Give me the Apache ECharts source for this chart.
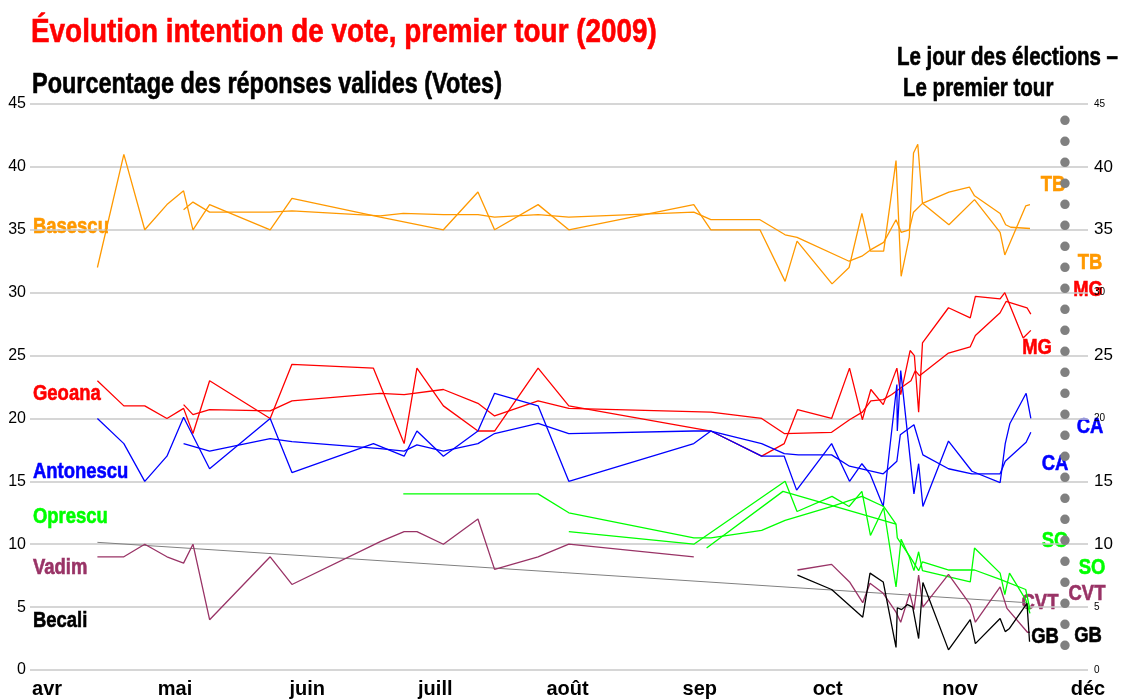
<!DOCTYPE html>
<html>
<head>
<meta charset="utf-8">
<script src="https://cdn.jsdelivr.net/npm/echarts@6/dist/echarts.min.js"></script>
<style>
  html, body { margin: 0; padding: 0; background: #fff; }
  #chart { width: 1128px; height: 700px; }
</style>
</head>
<body>
<div id="chart"></div>
<script>
// x values are days after 1 April 2009
const monthDays = [0, 30, 61, 91, 122, 153, 183, 214, 244];
const monthLabels = ['avr', 'mai', 'juin', 'juill', 'août', 'sep', 'oct', 'nov', 'déc'];
const electionDay = 238.6;

const basescuA = [[11.8,32.0],[18.0,41.0],[22.9,35.0],[28.1,37.0],[32.0,38.1],[34.2,35.0],[38.1,37.0],[52.3,35.0],[57.4,37.5],[78.1,36.0],[92.9,35.0],[101.0,38.0],[104.9,35.0],[115.1,37.0],[122.3,35.0],[151.6,37.0],[155.6,35.0],[167.1,35.0],[173.0,30.9],[175.8,34.1],[184.0,30.7],[188.0,32.0],[191.0,36.3],[193.0,33.3],[196.1,33.3],[199.0,40.5],[200.2,31.3],[202.1,34.4],[203.1,41.1],[204.1,41.8],[205.2,37.1],[211.4,35.4],[217.4,37.4],[223.4,34.8],[224.5,33.0],[229.4,36.9],[230.4,37.0]];
const basescuB = [[32.0,36.6],[34.2,37.2],[38.1,36.4],[52.3,36.4],[57.4,36.5],[78.1,36.1],[83.5,36.3],[92.9,36.2],[101.0,36.2],[104.9,36.0],[115.1,36.2],[122.3,36.0],[151.6,36.4],[155.6,35.8],[167.1,35.8],[173.0,34.6],[175.8,34.4],[188.0,32.5],[191.0,32.9],[193.0,33.4],[196.1,34.0],[199.0,35.8],[200.2,34.8],[202.1,35.0],[203.1,36.4],[205.2,37.1],[211.4,38.0],[216.2,38.4],[217.4,37.7],[223.4,36.3],[224.7,35.4],[225.9,35.2],[230.4,35.1]];

const geoanaA = [[11.8,23.0],[18.0,21.0],[22.9,21.0],[28.1,20.0],[32.0,20.8],[34.2,18.8],[38.1,23.0],[52.3,20.0],[57.4,24.3],[76.5,24.0],[83.7,18.0],[86.7,24.0],[92.9,21.0],[101.0,19.0],[104.9,19.0],[115.1,24.0],[122.3,21.0],[155.6,19.0],[167.5,17.0],[172.8,18.0],[175.9,20.7],[183.9,20.0],[188.1,24.0],[191.1,19.9],[193.1,22.3],[196.0,21.1],[199.2,24.0],[200.1,21.9],[202.3,25.4],[203.3,25.0],[204.3,20.5],[205.2,26.0],[211.3,28.8],[216.4,28.0],[217.6,29.7],[223.4,29.5],[224.5,30.0],[228.8,26.4],[230.6,27.0]];
const geoanaB = [[32.0,21.1],[34.2,20.3],[38.1,20.7],[52.3,20.6],[57.4,21.4],[78.1,22.0],[83.7,21.9],[92.9,22.3],[101.0,21.2],[104.9,20.2],[115.1,21.4],[122.3,20.8],[155.6,20.5],[167.5,20.0],[172.8,18.8],[183.9,18.9],[188.1,19.9],[191.1,20.5],[193.1,21.4],[196.0,21.5],[198.0,21.9],[200.0,22.4],[202.5,23.0],[203.5,23.8],[204.5,23.4],[211.3,25.2],[216.4,25.7],[217.6,26.6],[223.4,28.4],[224.8,29.3],[229.7,28.8],[230.6,28.3]];

const antonescuA = [[11.8,20.0],[18.0,18.0],[22.9,15.0],[28.1,17.0],[32.0,20.1],[38.1,16.0],[52.3,20.0],[57.4,15.7],[76.5,18.0],[83.7,17.0],[86.7,19.0],[92.9,17.0],[101.0,19.0],[104.9,22.0],[115.1,21.0],[122.3,15.0],[151.6,18.0],[155.6,19.0],[167.5,17.0],[172.8,17.0],[175.7,14.3],[183.9,18.0],[188.1,15.0],[191.0,16.4],[192.9,15.6],[196.0,13.0],[199.2,22.7],[199.3,19.0],[200.1,23.8],[203.2,14.0],[204.3,16.4],[205.3,13.0],[211.3,18.2],[216.8,15.8],[223.4,14.9],[224.6,18.0],[225.7,19.6],[229.5,22.0],[230.6,20.0]];
const antonescuB = [[32.0,18.0],[38.1,17.4],[52.3,18.4],[57.4,18.15],[78.1,17.6],[83.7,17.4],[86.7,17.9],[92.9,17.4],[101.0,18.0],[104.9,18.8],[115.1,19.6],[122.3,18.8],[151.6,19.0],[155.6,19.0],[167.5,18.0],[172.8,17.2],[176.1,17.1],[183.9,17.1],[188.1,16.2],[196.0,15.6],[199.2,16.6],[200.0,18.7],[203.2,19.5],[205.3,17.1],[211.3,16.0],[216.8,15.6],[223.4,15.6],[224.6,16.6],[229.5,18.1],[230.6,18.9]];

const oprescuA = [[83.5,14.0],[115.1,14.0],[122.3,12.5],[151.6,10.5],[155.6,10.5],[167.5,11.1],[173.0,11.9],[184.0,13.0],[191.0,13.8],[196.1,13.0],[199.0,11.6],[199.3,10.5],[202.3,9.0],[204.3,7.9],[205.2,8.6],[211.4,7.95],[217.4,7.95],[223.4,7.2],[229.4,6.4],[230.4,4.8]];
const oprescuB = [[122.3,11.0],[151.6,10.0],[173.0,15.0],[175.8,12.6],[184.0,13.8],[188.0,13.0],[191.0,14.2],[193.0,10.7],[196.1,12.9],[199.0,6.6],[200.2,10.4],[202.1,9.0],[203.2,7.9],[204.3,9.4],[205.2,7.9],[211.4,7.4],[216.4,7.0],[217.4,9.7],[223.4,7.7],[224.5,6.0],[225.6,7.7],[229.4,5.6],[230.4,4.5]];
const oprescuC = [[154.6,9.7],[172.5,14.2],[199.0,11.6]];

const vadimA = [[11.8,9.0],[18.0,9.0],[22.9,10.0],[28.1,9.0],[32.0,8.5],[34.2,10.0],[38.1,4.0],[52.3,9.0],[57.4,6.8],[78.1,10.2],[83.7,11.0],[86.7,11.0],[92.9,10.0],[101.0,12.0],[104.9,8.0],[115.1,9.0],[122.3,10.0],[151.6,9.0]];
const vadimB = [[175.9,7.95],[183.9,8.4],[188.1,7.0],[191.2,5.35],[192.9,6.9],[196.0,6.1],[199.0,4.6],[200.1,3.8],[202.2,6.1],[203.2,4.8],[204.3,7.55],[205.3,5.0],[211.3,7.6],[216.4,5.2],[217.6,3.8],[223.4,6.6],[225.0,4.9],[229.8,3.0],[230.4,3.0]];

const becali = [[175.9,7.55],[183.9,6.4],[191.2,4.2],[192.9,7.7],[196.0,7.0],[199.0,1.8],[199.3,4.95],[200.3,4.8],[201.7,5.2],[202.9,5.0],[204.3,2.5],[205.3,6.95],[211.3,1.6],[216.4,4.0],[217.6,2.1],[223.4,4.1],[224.6,3.05],[225.6,3.3],[229.7,5.3],[230.3,2.25]];
const becaliTrend = [[11.8,10.15],[229.7,5.35]];

const bigTicks = [40, 35, 25, 15, 10];

const FONT = '"Liberation Sans", Arial, sans-serif';
const NARROW = 0.82; // squeeze for an Arial Narrow look

const myChart = echarts.init(document.getElementById('chart'));

function line(name, color, pts, width) {
    return {
        name: name,
        type: 'line',
        symbol: 'none',
        silent: true,
        data: pts,
        lineStyle: { color: color, width: width || 1.3 }
    };
}

function txt(text, x, y, color, size, align) {
    return {
        type: 'text',
        x: x, y: y, scaleX: NARROW,
        style: {
            text: text, x: 0, y: 0, fill: color,
            stroke: color, lineWidth: 0.6,
            font: 'bold ' + size + 'px ' + FONT,
            textAlign: align || 'left', textVerticalAlign: 'middle'
        }
    };
}

const option = {
    animation: false,
    grid: { left: 30, right: 40, top: 104, bottom: 30 },
    xAxis: {
        type: 'value',
        min: -4,
        max: 244,
        axisLine: { show: false },
        axisTick: { show: false },
        splitLine: { show: false },
        axisLabel: {
            customValues: monthDays,
            margin: 9,
            color: '#000',
            fontWeight: 'bold',
            fontSize: 20,
            fontFamily: FONT,
            formatter: function (v) {
                let i = monthDays.indexOf(v);
                return i < 0 ? '' : monthLabels[i];
            }
        }
    },
    yAxis: [
        {
            type: 'value', min: 0, max: 45, interval: 5,
            axisLine: { show: false }, axisTick: { show: false },
            splitLine: { lineStyle: { color: '#c8c8c8', width: 1.5 } },
            axisLabel: { color: '#000', fontSize: 16, fontFamily: FONT, margin: 4 }
        },
        {
            type: 'value', min: 0, max: 45, interval: 5, position: 'right',
            axisLine: { show: false }, axisTick: { show: false },
            splitLine: { show: false },
            axisLabel: {
                margin: 6,
                formatter: v => bigTicks.indexOf(v) >= 0 ? '{b|' + v + '}' : '{s|' + v + '}',
                rich: {
                    b: { color: '#000', fontSize: 17, fontFamily: FONT },
                    s: { color: '#000', fontSize: 10, fontFamily: FONT }
                }
            }
        }
    ],
    series: [
        line('Becali tendance', '#808080', becaliTrend, 1),
        line('Basescu', '#FF9900', basescuA),
        line('Basescu 2', '#FF9900', basescuB),
        line('Geoana', '#FF0000', geoanaA),
        line('Geoana 2', '#FF0000', geoanaB),
        line('Antonescu', '#0000FF', antonescuA),
        line('Antonescu 2', '#0000FF', antonescuB),
        line('Oprescu', '#00FF00', oprescuA),
        line('Oprescu 2', '#00FF00', oprescuB),
        line('Oprescu 3', '#00FF00', oprescuC),
        line('Vadim', '#993366', vadimA),
        line('Vadim 2', '#993366', vadimB),
        line('Becali', '#000000', becali),
        {
            name: 'Le jour des élections',
            type: 'line',
            symbol: 'none',
            silent: true,
            data: [[electionDay, 43.7], [electionDay, 1.7]],
            lineStyle: { color: '#808080', width: 9.5, type: [0, 21], cap: 'round' }
        }
    ],
    graphic: [
        txt('Évolution intention de vote, premier tour (2009)', 31, 33, '#FF0000', 34),
        txt('Pourcentage des réponses valides (Votes)', 32, 85, '#000', 28.6),
        txt('Le jour des élections –', 897, 58, '#000', 25),
        txt('Le premier tour', 903, 89, '#000', 25),
        txt('Basescu', 33, 227, '#FF9900', 22.5),
        txt('Geoana', 33, 394, '#FF0000', 22.5),
        txt('Antonescu', 33, 472, '#0000FF', 22.5),
        txt('Oprescu', 33, 517, '#00FF00', 22.5),
        txt('Vadim', 33, 568, '#993366', 22.5),
        txt('Becali', 33, 621, '#000', 22.5),
        txt('TB', 1053, 185, '#FF9900', 22.5, 'center'),
        txt('TB', 1090, 263, '#FF9900', 22.5, 'center'),
        txt('MG', 1088, 290, '#FF0000', 22.5, 'center'),
        txt('MG', 1037, 348, '#FF0000', 22.5, 'center'),
        txt('CA', 1090, 427, '#0000FF', 22.5, 'center'),
        txt('CA', 1055, 464, '#0000FF', 22.5, 'center'),
        txt('SO', 1055, 541, '#00FF00', 22.5, 'center'),
        txt('SO', 1092, 568, '#00FF00', 22.5, 'center'),
        txt('CVT', 1040, 603, '#993366', 22.5, 'center'),
        txt('CVT', 1087, 594, '#993366', 22.5, 'center'),
        txt('GB', 1045, 637, '#000', 22.5, 'center'),
        txt('GB', 1088, 636, '#000', 22.5, 'center')
    ]
};

myChart.setOption(option);
</script>
</body>
</html>
